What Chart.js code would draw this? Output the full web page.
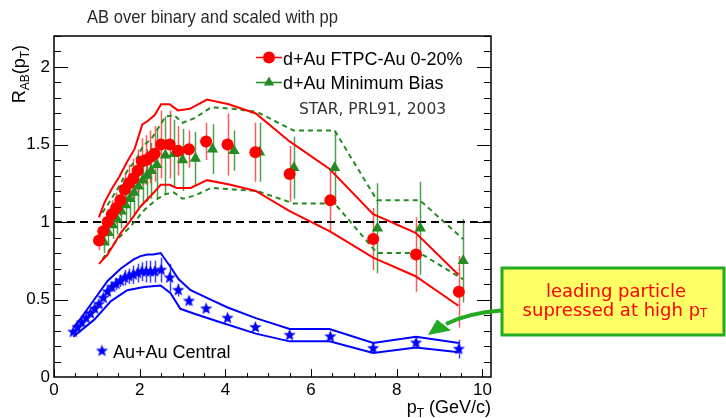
<!DOCTYPE html>
<html lang="en">
<head>
<meta charset="utf-8" />
<title>R_AB over binary and scaled with pp</title>
<script src="https://cdn.jsdelivr.net/npm/chart.js@4/dist/chart.umd.min.js"></script>
<style>
  html, body { margin: 0; padding: 0; background: #fff; }
  #wrap { width: 726px; height: 418px; }
</style>
</head>
<body>
<div id="wrap"><canvas id="rab" width="726" height="418"></canvas></div>
<script>
// d+Au FTPC-Au 0-20% (central d+Au)
const centralPt  = [1.05, 1.15, 1.25, 1.35, 1.45, 1.55, 1.65, 1.75, 1.85, 1.95, 2.05, 2.15, 2.25, 2.35, 2.5, 2.7, 2.9, 3.15, 3.55, 4.05, 4.7, 5.5, 6.45, 7.45, 8.45, 9.45];
const centralR   = [0.88, 0.94, 1.00, 1.05, 1.09, 1.14, 1.21, 1.25, 1.28, 1.33, 1.39, 1.40, 1.42, 1.44, 1.50, 1.50, 1.46, 1.47, 1.52, 1.50, 1.45, 1.31, 1.14, 0.89, 0.79, 0.55];
const centralErr = [0.06, 0.07, 0.08, 0.09, 0.10, 0.10, 0.11, 0.12, 0.13, 0.14, 0.15, 0.16, 0.17, 0.18, 0.22, 0.22, 0.16, 0.12, 0.12, 0.20, 0.19, 0.18, 0.20, 0.20, 0.24, 0.23];

// systematic band, central d+Au
const centralHiPt = [1.05, 1.17, 1.34, 1.52, 1.71, 1.88, 2.06, 2.18, 2.35, 2.50, 2.70, 2.89, 3.17, 3.57, 4.08, 4.71, 5.50, 6.44, 7.45, 8.44, 9.44];
const centralHi   = [1.03, 1.12, 1.21, 1.29, 1.39, 1.47, 1.63, 1.65, 1.69, 1.76, 1.76, 1.72, 1.73, 1.79, 1.76, 1.70, 1.52, 1.34, 1.05, 0.93, 0.66];
const centralLoPt = [1.05, 1.25, 1.56, 1.79, 2.02, 2.33, 2.49, 2.70, 2.86, 3.19, 3.57, 4.12, 4.71, 5.50, 6.44, 7.45, 8.44, 9.44];
const centralLo   = [0.73, 0.79, 0.93, 1.01, 1.10, 1.19, 1.24, 1.24, 1.22, 1.22, 1.27, 1.24, 1.20, 1.07, 0.94, 0.77, 0.65, 0.46];

// d+Au minimum bias
const minbiasPt  = [1.17, 1.27, 1.37, 1.47, 1.57, 1.67, 1.77, 1.87, 1.97, 2.07, 2.17, 2.27, 2.4, 2.6, 2.8, 3.0, 3.3, 3.7, 4.2, 4.8, 5.6, 6.55, 7.55, 8.55, 9.55];
const minbiasR   = [0.87, 0.93, 0.98, 1.02, 1.07, 1.11, 1.15, 1.19, 1.23, 1.27, 1.30, 1.33, 1.37, 1.43, 1.44, 1.40, 1.41, 1.47, 1.46, 1.45, 1.35, 1.35, 0.96, 0.96, 0.75];
const minbiasErr = [0.07, 0.08, 0.09, 0.10, 0.11, 0.12, 0.13, 0.14, 0.15, 0.16, 0.17, 0.18, 0.22, 0.25, 0.22, 0.20, 0.17, 0.16, 0.13, 0.19, 0.20, 0.24, 0.29, 0.30, 0.27];

// systematic band, minimum bias
const minbiasBandPt = [1.13, 1.32, 1.52, 1.71, 1.91, 2.08, 2.28, 2.42, 2.60, 2.80, 3.00, 3.28, 3.67, 4.18, 4.74, 5.59, 6.55, 7.54, 8.54, 9.55];
const minbiasHi     = [1.06, 1.14, 1.23, 1.33, 1.40, 1.49, 1.54, 1.60, 1.68, 1.69, 1.64, 1.67, 1.74, 1.73, 1.71, 1.59, 1.59, 1.14, 1.14, 0.89];
const minbiasLo     = [0.76, 0.83, 0.90, 0.95, 1.01, 1.07, 1.12, 1.15, 1.18, 1.19, 1.15, 1.17, 1.22, 1.21, 1.20, 1.12, 1.12, 0.80, 0.80, 0.63];

// Au+Au central
const auauPt  = [0.45, 0.55, 0.65, 0.75, 0.85, 0.95, 1.05, 1.15, 1.25, 1.35, 1.45, 1.55, 1.65, 1.75, 1.85, 1.95, 2.05, 2.15, 2.25, 2.35, 2.5, 2.7, 2.9, 3.15, 3.55, 4.05, 4.7, 5.5, 6.45, 7.45, 8.45, 9.45];
const auauR   = [0.29, 0.32, 0.35, 0.38, 0.41, 0.44, 0.47, 0.51, 0.55, 0.58, 0.60, 0.62, 0.64, 0.65, 0.66, 0.67, 0.68, 0.68, 0.68, 0.68, 0.69, 0.64, 0.56, 0.49, 0.44, 0.38, 0.32, 0.27, 0.26, 0.185, 0.22, 0.18];
const auauErr = [0.01, 0.01, 0.01, 0.01, 0.01, 0.02, 0.02, 0.02, 0.03, 0.03, 0.04, 0.04, 0.05, 0.05, 0.06, 0.06, 0.06, 0.07, 0.07, 0.07, 0.08, 0.09, 0.04, 0.03, 0.02, 0.02, 0.02, 0.01, 0.02, 0.03, 0.04, 0.06];

const auauHiPt = [0.45, 0.63, 0.94, 1.25, 1.56, 1.87, 2.02, 2.18, 2.32, 2.49, 2.72, 2.91, 3.19, 3.57, 4.04, 4.71, 5.50, 6.43, 7.45, 8.45, 9.45];
const auauHi   = [0.32, 0.38, 0.50, 0.62, 0.70, 0.76, 0.78, 0.79, 0.79, 0.80, 0.71, 0.63, 0.56, 0.51, 0.45, 0.38, 0.31, 0.31, 0.22, 0.26, 0.22];
const auauLoPt = [0.45, 0.94, 1.33, 1.71, 2.10, 2.49, 2.72, 2.95, 3.26, 3.81, 4.71, 5.50, 6.43, 7.45, 8.45, 9.45];
const auauLo   = [0.26, 0.37, 0.49, 0.56, 0.58, 0.59, 0.54, 0.44, 0.41, 0.36, 0.28, 0.23, 0.23, 0.155, 0.19, 0.16];

// unity reference
const unityPt = [0, 10.2];
const unityR  = [1, 1];

// axes
const xTicks = [0, 2, 4, 6, 8, 10];
const yTicks = [0, 0.5, 1, 1.5, 2];

const RED = '#ff0000';
const GREEN = '#228b22';
const BLUE = '#0000ff';
const HELV = '"Liberation Sans", Arial, sans-serif';
const DEJA = '"DejaVu Sans", sans-serif';

const toXY = (xs, ys) => xs.map((x, i) => ({ x: x, y: ys[i] }));

function starMarker(color, r) {
  const s = Math.ceil(r * 2 + 2);
  const c = document.createElement('canvas');
  c.width = s; c.height = s;
  const g = c.getContext('2d');
  g.fillStyle = color;
  g.beginPath();
  for (let i = 0; i < 10; i++) {
    const a = -Math.PI / 2 + i * Math.PI / 5;
    const rr = i % 2 ? r * 0.42 : r;
    g.lineTo(s / 2 + rr * Math.cos(a), s / 2 + rr * Math.sin(a));
  }
  g.closePath();
  g.fill();
  return c;
}
const star = starMarker(BLUE, 6.5);

function bandLine(xs, ys, color, dash) {
  return {
    data: toXY(xs, ys), showLine: true, pointRadius: 0, borderColor: color,
    borderWidth: 2, borderDash: dash || [], fill: false, tension: 0, order: 5
  };
}

// text split in runs so subscripts can be drawn smaller and lower
function drawRuns(ctx, runs, x, y, align) {
  let total = 0;
  runs.forEach(r => { ctx.font = r.font; r.w = ctx.measureText(r.t).width; total += r.w; });
  let cx = align === 'right' ? x - total : align === 'center' ? x - total / 2 : x;
  ctx.textAlign = 'left';
  ctx.textBaseline = 'alphabetic';
  runs.forEach(r => { ctx.font = r.font; ctx.fillText(r.t, cx, y + (r.dy || 0)); cx += r.w; });
}

function drawErrorBars(ctx, chart, xs, ys, es, color, width) {
  const sx = chart.scales.x, sy = chart.scales.y;
  ctx.save();
  ctx.strokeStyle = color;
  ctx.lineWidth = width;
  ctx.beginPath();
  xs.forEach((x, i) => {
    const px = Math.round(sx.getPixelForValue(x)) + 0.5;
    ctx.moveTo(px, sy.getPixelForValue(ys[i] - es[i]));
    ctx.lineTo(px, sy.getPixelForValue(ys[i] + es[i]));
  });
  ctx.stroke();
  ctx.restore();
}

const decorations = {
  id: 'decorations',
  beforeDatasetsDraw(chart) {
    const ctx = chart.ctx;
    drawErrorBars(ctx, chart, auauPt, auauR, auauErr, 'rgba(0,0,255,0.75)', 1.5);
    drawErrorBars(ctx, chart, minbiasPt, minbiasR, minbiasErr, 'rgba(34,139,34,0.8)', 1.5);
    drawErrorBars(ctx, chart, centralPt, centralR, centralErr, 'rgba(255,0,0,0.65)', 1.5);
  },
  afterDraw(chart) {
    const ctx = chart.ctx;
    const a = chart.chartArea;
    const sx = chart.scales.x, sy = chart.scales.y;

    // frame
    ctx.save();
    ctx.strokeStyle = '#000';
    ctx.lineWidth = 1.5;
    ctx.strokeRect(a.left, a.top, a.right - a.left, a.bottom - a.top);

    // inward ticks: bottom, left and right
    ctx.lineWidth = 1;
    ctx.beginPath();
    for (let v = 0; v <= 10.0001; v += 0.5) {
      const px = Math.round(sx.getPixelForValue(v)) + 0.5;
      const len = xTicks.includes(Math.round(v * 10) / 10) ? 8 : 4;
      ctx.moveTo(px, a.bottom);
      ctx.lineTo(px, a.bottom - len);
    }
    for (let v = 0.1; v <= 2.2001; v += 0.1) {
      const py = Math.round(sy.getPixelForValue(v)) + 0.5;
      const len = yTicks.includes(Math.round(v * 10) / 10) ? 14 : 7;
      ctx.moveTo(a.left, py); ctx.lineTo(a.left + len, py);
      ctx.moveTo(a.right, py); ctx.lineTo(a.right - len, py);
    }
    ctx.stroke();

    // title, squeezed a little so it keeps its tall letters in a 251px run
    const title = 'AB over binary and scaled with pp';
    ctx.fillStyle = '#2a2a2a';
    ctx.font = '18.5px ' + HELV;
    ctx.textAlign = 'left';
    ctx.textBaseline = 'alphabetic';
    const tw = ctx.measureText(title).width;
    ctx.save();
    ctx.translate(87, 22.5);
    ctx.scale(251 / tw, 1);
    ctx.fillText(title, 0, 0);
    ctx.restore();

    // axis titles
    ctx.fillStyle = '#000';
    drawRuns(ctx, [
      { t: 'p', font: '18px ' + HELV },
      { t: 'T', font: '12px ' + HELV, dy: 4 },
      { t: ' (GeV/c)', font: '18px ' + HELV }
    ], a.right, 413, 'right');

    ctx.save();
    ctx.translate(25, 45);
    ctx.rotate(-Math.PI / 2);
    drawRuns(ctx, [
      { t: 'R', font: '18px ' + HELV },
      { t: 'AB', font: '12px ' + HELV, dy: 4 },
      { t: '(p', font: '18px ' + HELV },
      { t: 'T', font: '12px ' + HELV, dy: 4 },
      { t: ')', font: '18px ' + HELV }
    ], 0, 0, 'right');
    ctx.restore();

    // legend
    ctx.lineWidth = 1.5;
    ctx.strokeStyle = RED;
    ctx.beginPath(); ctx.moveTo(256, 57.5); ctx.lineTo(282, 57.5); ctx.stroke();
    ctx.fillStyle = RED;
    ctx.beginPath(); ctx.arc(269, 57.5, 6, 0, Math.PI * 2); ctx.fill();

    ctx.strokeStyle = GREEN;
    ctx.beginPath(); ctx.moveTo(256, 82.5); ctx.lineTo(282, 82.5); ctx.stroke();
    ctx.fillStyle = GREEN;
    ctx.beginPath(); ctx.moveTo(269, 76.5); ctx.lineTo(274.2, 85.5); ctx.lineTo(263.8, 85.5); ctx.closePath(); ctx.fill();

    ctx.fillStyle = '#000';
    ctx.font = '18px ' + HELV;
    ctx.fillText('d+Au FTPC-Au 0-20%', 283, 64.5);
    ctx.fillText('d+Au Minimum Bias', 283, 88.5);
    ctx.fillText('Au+Au Central', 113, 358);
    ctx.drawImage(star, 102 - star.width / 2, 351 - star.height / 2);

    ctx.fillStyle = '#333';
    ctx.font = '15.5px ' + DEJA;
    ctx.fillText('STAR, PRL91, 2003', 299, 114);

    // callout box
    ctx.fillStyle = '#ffff66';
    ctx.fillRect(502, 268, 222, 67);
    ctx.strokeStyle = '#22aa22';
    ctx.lineWidth = 3;
    ctx.strokeRect(502, 268, 222, 67);

    ctx.fillStyle = RED;
    ctx.font = '18px ' + DEJA;
    ctx.textAlign = 'center';
    ctx.fillText('leading particle', 616, 297);
    drawRuns(ctx, [
      { t: 'supressed at high p', font: '18px ' + DEJA },
      { t: 'T', font: '12px ' + DEJA, dy: 1 }
    ], 615, 316, 'center');

    // arrow pointing at the Au+Au points
    ctx.strokeStyle = '#22aa22';
    ctx.fillStyle = '#22aa22';
    ctx.lineWidth = 4;
    ctx.beginPath();
    ctx.moveTo(501, 310.5);
    ctx.quadraticCurveTo(468, 313, 446, 324);
    ctx.stroke();
    ctx.beginPath();
    ctx.moveTo(428, 335);
    ctx.lineTo(437, 319.5);
    ctx.lineTo(451, 330.5);
    ctx.closePath();
    ctx.fill();
    ctx.restore();
  }
};

const chart = new Chart(document.getElementById('rab'), {
  type: 'scatter',
  data: {
    datasets: [
      { data: toXY(centralPt, centralR), pointStyle: 'circle', pointRadius: 6, backgroundColor: RED, borderColor: RED, borderWidth: 0, order: 1 },
      { data: toXY(minbiasPt, minbiasR), pointStyle: 'triangle', pointRadius: 6.5, backgroundColor: GREEN, borderColor: GREEN, borderWidth: 0, order: 2 },
      { data: toXY(auauPt, auauR), pointStyle: star, pointRadius: 6, backgroundColor: BLUE, borderColor: BLUE, order: 3 },
      bandLine(centralHiPt, centralHi, RED),
      bandLine(centralLoPt, centralLo, RED),
      bandLine(minbiasBandPt, minbiasHi, GREEN, [5, 4]),
      bandLine(minbiasBandPt, minbiasLo, GREEN, [5, 4]),
      bandLine(auauHiPt, auauHi, BLUE),
      bandLine(auauLoPt, auauLo, BLUE),
      { data: toXY(unityPt, unityR), showLine: true, pointRadius: 0, borderColor: '#000', borderWidth: 2, borderDash: [8, 5], order: 6 }
    ]
  },
  options: {
    responsive: false,
    animation: false,
    devicePixelRatio: 1,
    layout: { padding: { top: 36, right: 235, left: 0, bottom: 0 } },
    plugins: { legend: { display: false }, tooltip: { enabled: false }, title: { display: false } },
    scales: {
      x: {
        type: 'linear', min: 0, max: 10.2,
        grid: { display: false, drawTicks: false },
        border: { display: false },
        ticks: { color: '#000', font: { family: HELV, size: 17 }, padding: 3, maxRotation: 0 },
        afterBuildTicks: s => { s.ticks = xTicks.map(v => ({ value: v })); },
        afterFit: s => { s.height = 41; }
      },
      y: {
        type: 'linear', min: 0, max: 2.2,
        grid: { display: false, drawTicks: false },
        border: { display: false },
        ticks: { color: '#000', font: { family: HELV, size: 17 }, padding: 4, callback: v => String(v) },
        afterBuildTicks: s => { s.ticks = yTicks.map(v => ({ value: v })); },
        afterFit: s => { s.width = 54; }
      }
    }
  },
  plugins: [decorations]
});
</script>
</body>
</html>
